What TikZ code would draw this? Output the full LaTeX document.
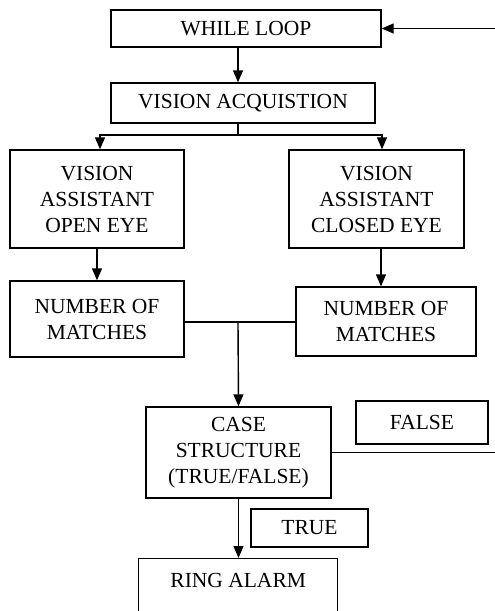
\documentclass[tikz,border=0pt]{standalone}
\usepackage{fontspec}
\setmainfont{Liberation Serif}
\usetikzlibrary{arrows.meta}
\begin{document}
\begin{tikzpicture}[x=1pt,y=-1pt,
  box/.style={draw, line width=1.4pt, align=center, inner sep=0pt,
    font=\fontsize{21.5}{26}\selectfont},
  ln/.style={line width=1.4pt},
  arr/.style={line width=1.4pt, -{Triangle[length=12pt,width=10pt]}}]
\clip (0,0) rectangle (495,611);
\fill[white] (0,0) rectangle (495,611);
\node[box, minimum width=270pt, minimum height=37pt] (wl) at (246,28.5) {WHILE LOOP};
\node[box, minimum width=264pt, minimum height=40pt] (va) at (243,103) {VISION ACQUISTION};
\node[box, minimum width=174pt, minimum height=98pt] (oe) at (97,199) {VISION\\ASSISTANT\\OPEN EYE};
\node[box, minimum width=175pt, minimum height=98pt] (ce) at (376.5,199) {VISION\\ASSISTANT\\CLOSED EYE};
\node[box, minimum width=174pt, minimum height=76pt] (nm1) at (97,319) {NUMBER OF\\MATCHES};
\node[box, minimum width=180pt, minimum height=69pt] (nm2) at (386,321.5) {NUMBER OF\\MATCHES};
\node[box, minimum width=185pt, minimum height=91pt] (cs) at (238.5,452.5) {CASE\\STRUCTURE\\(TRUE/FALSE)};
\node[box, minimum width=132pt, minimum height=43pt] (fl) at (422,422.5) {FALSE};
\node[box, minimum width=117pt, minimum height=38pt] (tr) at (309.5,528) {TRUE};
\node[box, minimum width=199pt, text height=29pt, text depth=41pt, anchor=north west] (ra) at (138,558) {RING ALARM};
\coordinate (loopin) at (495,28.5);
\coordinate (split) at (238,135);
\coordinate (join) at (238,322);
\coordinate (fend) at (495,452.5);
\draw[arr] (loopin) -- (wl.east);
\draw[arr] (wl.south -| split) -- (va.north -| split);
\draw[ln] (va.south -| split) -- (split);
\draw[arr] (split) -| (oe.north -| 100,0);
\draw[arr] (split) -| (ce.north -| 382,0);
\draw[arr] (oe.south) -- (nm1.north);
\draw[arr] (ce.south -| 381,0) -- (nm2.north -| 381,0);
\draw[ln] (nm1.east |- join) -- (nm2.west |- join);
\draw[arr] (join) -- (cs.north);
\draw[ln] (cs.east) -- (fend);
\draw[arr] (cs.south) -- (ra.north -| cs.south);
\end{tikzpicture}
\end{document}
